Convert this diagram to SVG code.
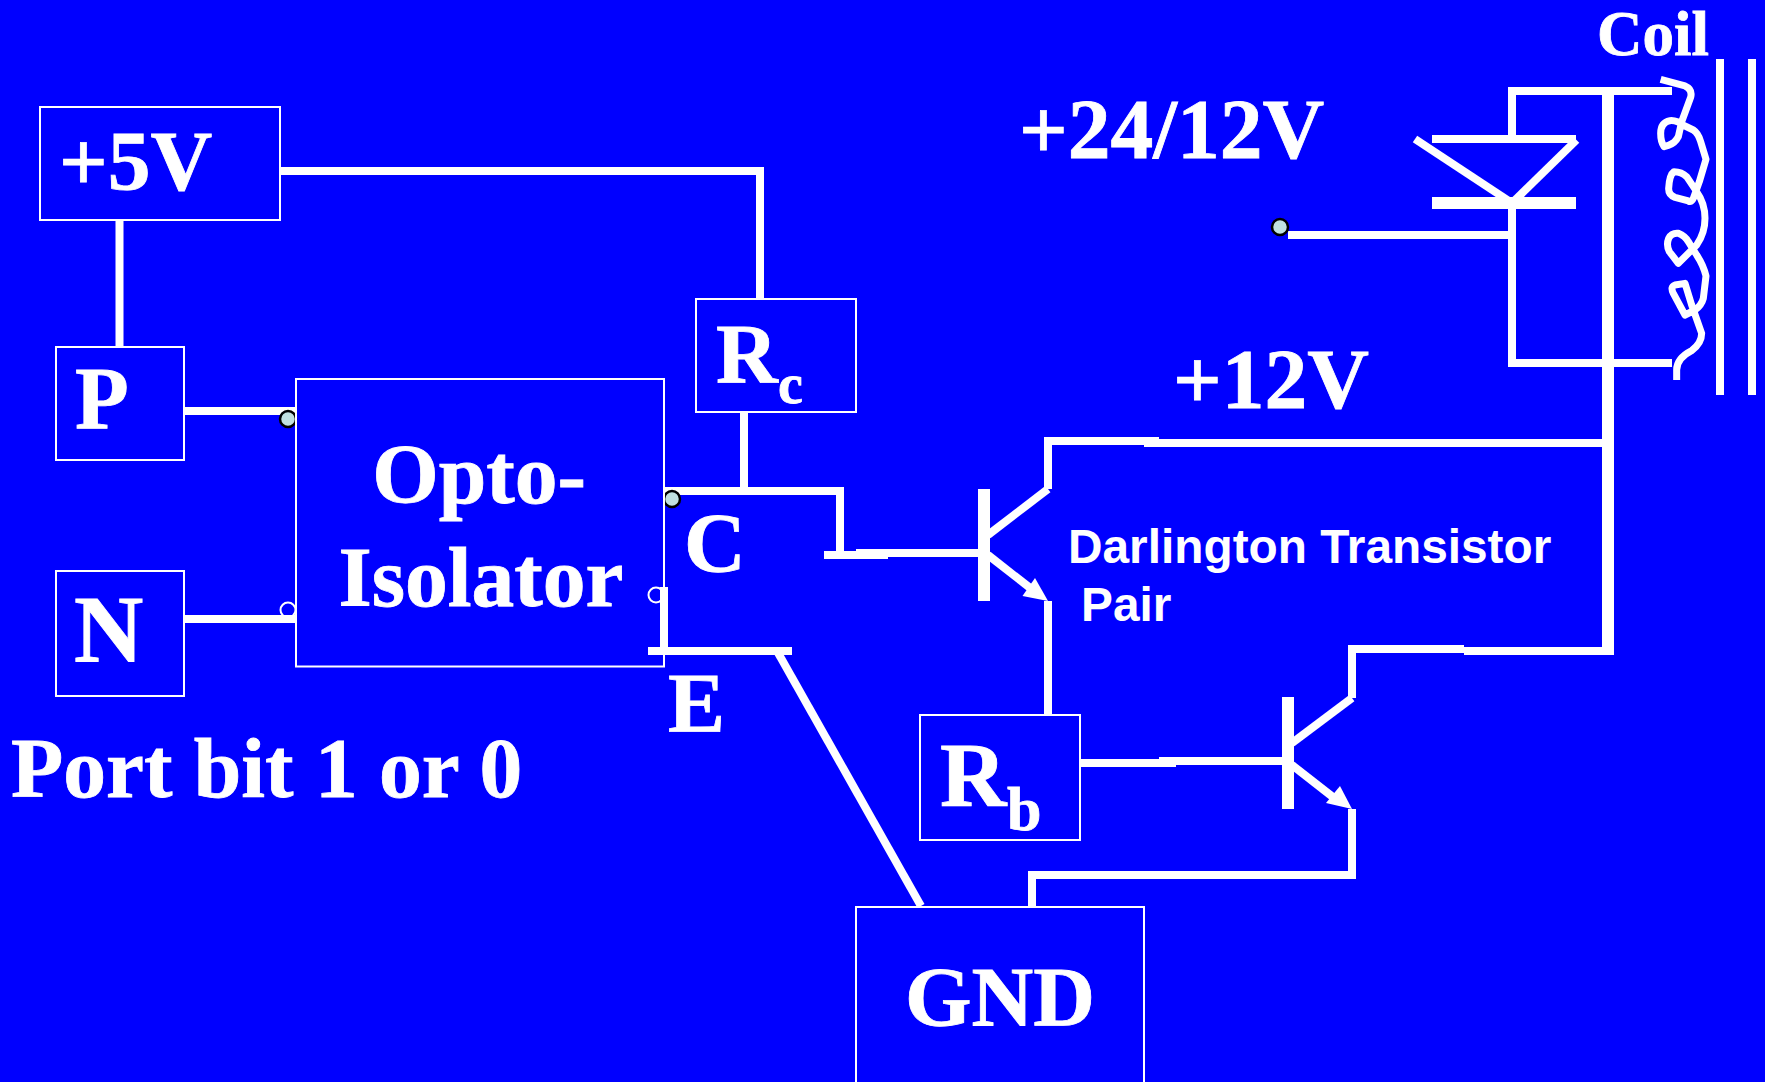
<svg xmlns="http://www.w3.org/2000/svg" width="1765" height="1082" viewBox="0 0 1765 1082">
<style>
.box{fill:#00f;stroke:#fff;stroke-width:2}
.w{fill:none;stroke:#fff;stroke-width:8}
.w12{fill:none;stroke:#fff;stroke-width:12}
.t{font-family:"Liberation Serif","Times New Roman",serif;font-weight:700;font-size:85.500px;fill:#fff;stroke:#fff;stroke-width:.8}
.a{font-family:"Liberation Sans",Arial,sans-serif;font-weight:700;font-size:47.800px;fill:#fff}
.dot{fill:#c0e0e0;stroke:#000;stroke-width:2.500}
.ring{fill:none;stroke:#fff;stroke-width:2}
.head{fill:#fff}
</style>
<rect width="1765" height="1082" fill="#00f"/>
<g id="connectors">
<path class="w" d="M280 171H760M760 167V299"/>
<path class="w" d="M119.500 220V347"/>
<path class="w" d="M184 411H296"/>
<path class="w" d="M184 619H296"/>
<path class="w" d="M744 412V491"/>
<path class="w" d="M664 491H840M840 487V559"/>
<path class="w" d="M824 555H888"/>
<path class="w" d="M856 553H978"/>
<path class="w" d="M664 587V651"/>
<path class="w" d="M648 651H792"/>
<path class="w" d="M777 651L921 906"/>
<path class="w" d="M1048 489V437M1044 441H1159"/>
<path class="w" d="M1144 443H1608"/>
<path class="w" d="M1048 601V715"/>
<path class="w" d="M1080 763H1176"/>
<path class="w" d="M1159 761H1282"/>
<path class="w" d="M1352 698V645M1348 649H1464"/>
<path class="w" d="M1464 651H1608"/>
<path class="w" d="M1352 809V879M1356 875H1028M1032 875V906"/>
<path class="w" d="M1288 235H1508"/>
<path class="w" d="M1512 91V135M1508 91H1672"/>
<path class="w" d="M1512 209V367M1508 363H1672"/>
<path class="w12" d="M1608 95V655"/>
</g>
<g id="transistor-1">
<path class="w12" d="M984 489V601"/>
<path class="w" d="M988 535L1048 489"/>
<path class="w" d="M988 555L1034 591"/>
<path class="head" d="M1048 601L1022.500 596L1035 578Z"/>
</g>
<g id="transistor-2">
<path class="w12" d="M1288 697V809"/>
<path class="w" d="M1292 743L1352 698"/>
<path class="w" d="M1292 765L1338 801"/>
<path class="head" d="M1352 809L1326 803L1340 786Z"/>
</g>
<g id="diode">
<path class="w" d="M1432 139H1576"/>
<path class="w" d="M1415 139L1512 203"/>
<path class="w" d="M1576.500 140L1512 203"/>
<path class="w12" d="M1432 203H1576"/>
</g>
<g id="coil" transform="translate(1380 0) scale(.33333)">
<path fill="none" stroke="#fff" stroke-width="21" stroke-linejoin="round" d="M842 238L915 258Q938 268 932 292L905 365L895 410Q885 430 865 436L852 440Q842 425 842 400Q842 368 870 362Q890 360 915 378L940 390Q955 400 962 425L978 478L958 545L940 595Q935 608 925 603L885 592Q865 585 866 565Q868 525 882 515Q905 515 920 530L950 575Q975 610 975 655Q975 700 950 735L895 790Q880 770 868 755Q858 735 866 715Q875 698 895 700Q915 708 925 725L950 765Q970 795 978 828L970 895Q965 915 945 930L915 945L880 880Q870 860 885 855L915 850L935 915L965 1000Q965 1030 935 1052Q890 1075 890 1110V1140"/>
</g>
<g id="core">
<path class="w" d="M1720 59V395"/>
<path class="w" d="M1752 59V395"/>
</g>
<g id="terminals">
<circle class="ring" cx="288" cy="610" r="7.500"/>
<circle class="ring" cx="656" cy="595" r="7.500"/>
<circle class="dot" cx="288" cy="419" r="8"/>
<circle class="dot" cx="672" cy="499" r="8"/>
<circle class="dot" cx="1280" cy="227" r="8"/>
</g>
<g id="plus5v"><rect class="box" x="40" y="107" width="240" height="113"/><text class="t" x="59" y="190">+5V</text></g>
<g id="p"><rect class="box" x="56" y="347" width="128" height="113"/><text class="t" x="75" y="428" style="font-size:88px">P</text></g>
<g id="n"><rect class="box" x="56" y="571" width="128" height="125"/><text class="t" x="74" y="662" style="font-size:96px">N</text></g>
<g id="opto"><rect x="296" y="379" width="368" height="287.500" class="box" style="fill:none"/><text class="t" x="479" y="503" text-anchor="middle">Opto-</text><text class="t" x="481" y="606" text-anchor="middle">Isolator</text></g>
<g id="rc"><rect class="box" x="696" y="299" width="160" height="113"/><text class="t" x="716" y="383">R</text><text class="t" x="778" y="403" style="font-size:56px">c</text></g>
<g id="rb"><rect class="box" x="920" y="715" width="160" height="125"/><text class="t" x="940" y="806" style="font-size:92px">R</text><text class="t" x="1007" y="830" style="font-size:62px">b</text></g>
<g id="gnd"><rect class="box" x="856" y="907" width="288" height="190"/><text class="t" x="905" y="1026">GND</text></g>
<g id="labels">
<text class="t" x="11" y="797">Port bit 1 or 0</text>
<text class="t" x="684" y="572">C</text>
<text class="t" x="668" y="732">E</text>
<text class="t" x="1019" y="158">+24/12V</text>
<text class="t" x="1173" y="408">+12V</text>
<text class="t" x="1597" y="55" style="font-size:63px">Coil</text>
<text class="a" x="1068" y="563">Darlington Transistor</text>
<text class="a" x="1081" y="621">Pair</text>
</g>
</svg>
